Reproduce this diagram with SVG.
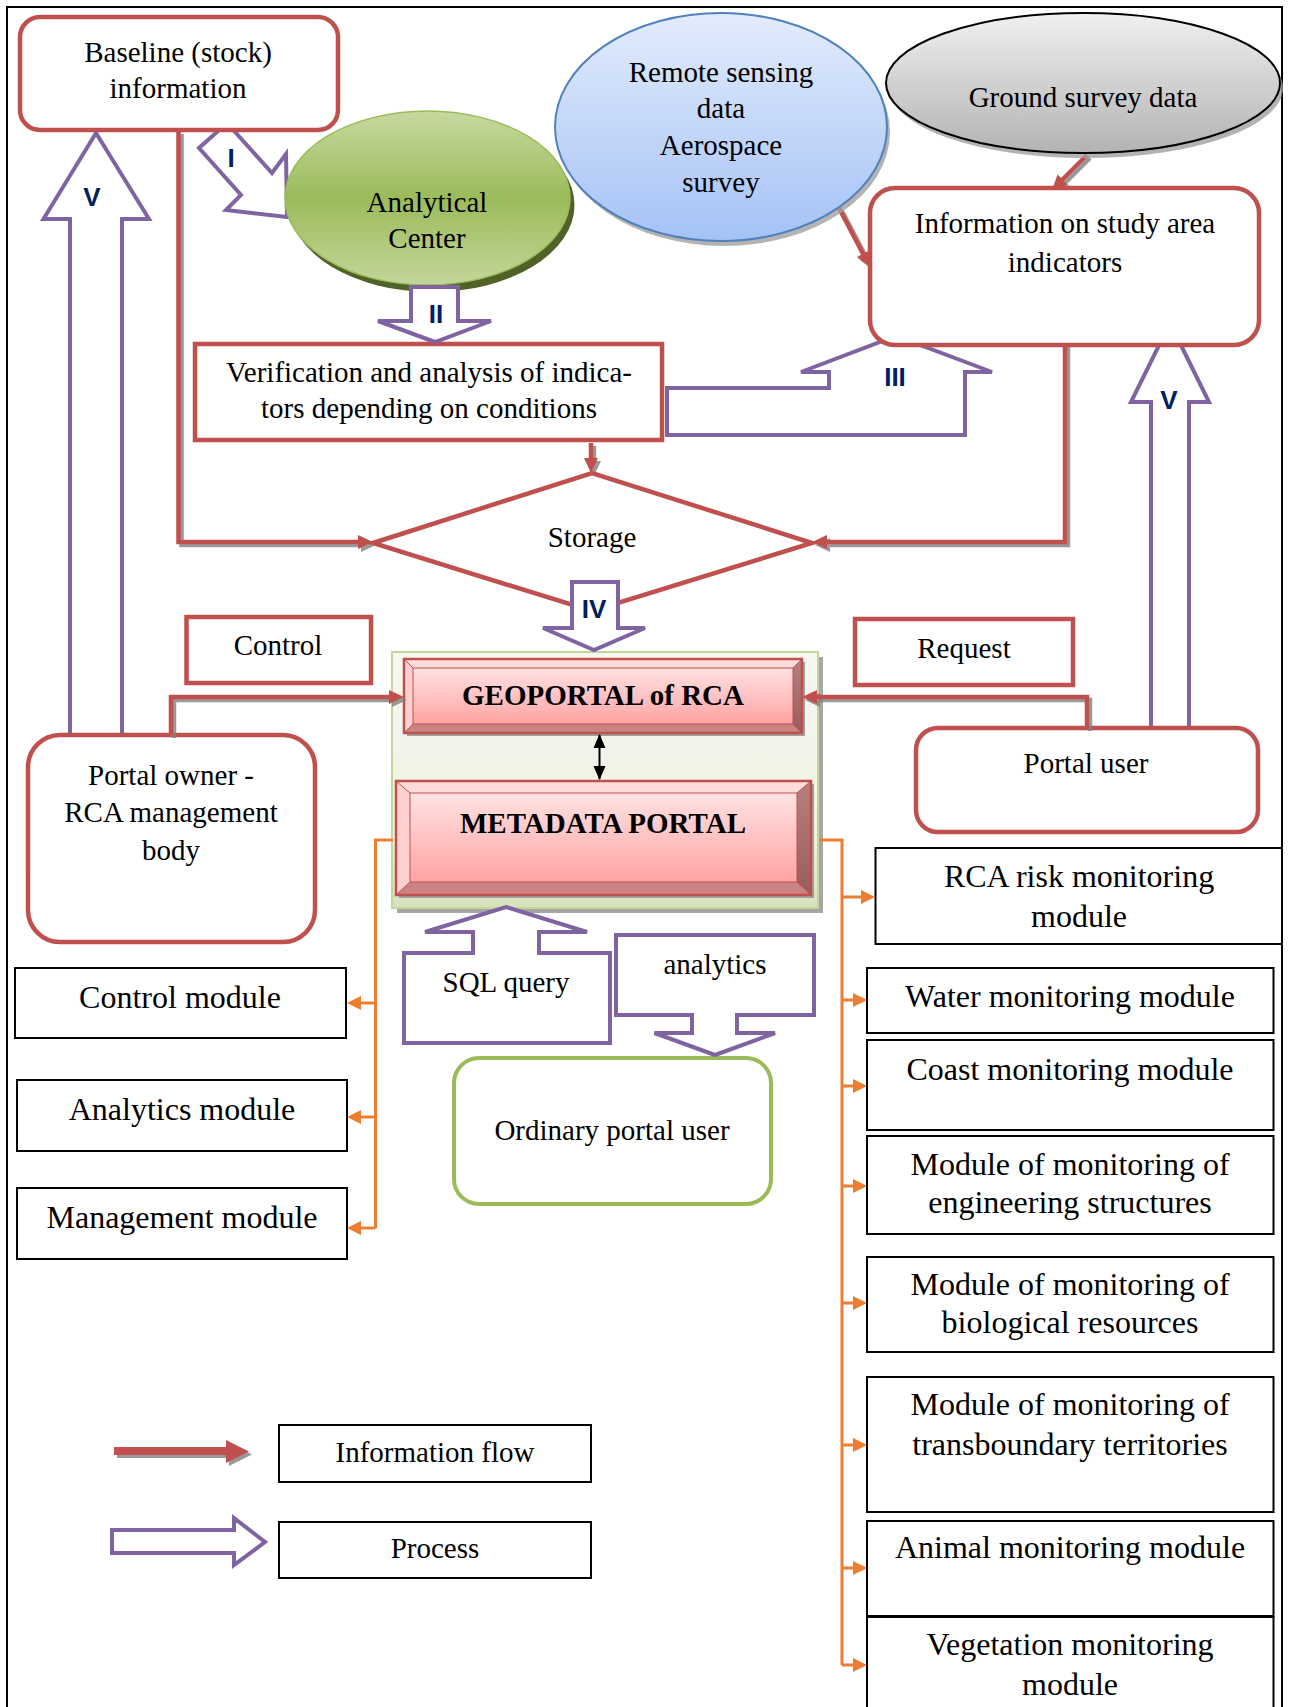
<svg xmlns="http://www.w3.org/2000/svg" width="1290" height="1707" viewBox="0 0 1290 1707">
<defs>
<style>
.t{font-family:"Liberation Serif","Times New Roman",serif;font-size:29px;fill:#000;text-anchor:middle}
.m{font-size:32px}
.b{font-weight:bold}
.num{font-family:"Liberation Sans",Arial,sans-serif;font-size:26px;font-weight:bold;fill:#002060;text-anchor:middle}
.red{fill:#fff;stroke:#C0504D;stroke-width:4.5}
.flow{fill:none;stroke:#C0504D;stroke-width:4.5}
.proc{fill:#fff;stroke:#8064A2;stroke-width:4;stroke-linejoin:miter}
.mod{fill:#fff;stroke:#000;stroke-width:2}
.org{fill:none;stroke:#ED7D31;stroke-width:3}
</style>
<marker id="ar" markerUnits="userSpaceOnUse" markerWidth="16" markerHeight="16" viewBox="0 0 16 16" refX="5" refY="8" orient="auto"><path d="M0,1 L15,8 L0,15 z" fill="#C0504D"/></marker>
<marker id="ao" markerUnits="userSpaceOnUse" markerWidth="16" markerHeight="16" viewBox="0 0 16 16" refX="4" refY="8" orient="auto"><path d="M0,1 L14,8 L0,15 z" fill="#ED7D31"/></marker>
<marker id="ab" markerUnits="userSpaceOnUse" markerWidth="14" markerHeight="14" viewBox="0 0 14 14" refX="13" refY="7" orient="auto-start-reverse"><path d="M0,1 L14,7 L0,13 z" fill="#000"/></marker>
<filter id="sh" filterUnits="userSpaceOnUse" x="0" y="0" width="1290" height="1707"><feDropShadow dx="3" dy="3" stdDeviation="0.7" flood-color="#808080" flood-opacity="0.8"/></filter>
<linearGradient id="gGreen" x1="0" y1="0" x2="0" y2="1"><stop offset="0" stop-color="#C6D9A0"/><stop offset="0.5" stop-color="#9BBB59"/><stop offset="1" stop-color="#C3D69B"/></linearGradient>
<linearGradient id="gBlue" x1="0" y1="0" x2="0" y2="1"><stop offset="0" stop-color="#E3ECFC"/><stop offset="1" stop-color="#A5C2F6"/></linearGradient>
<linearGradient id="gGray" x1="0" y1="0" x2="0" y2="1"><stop offset="0" stop-color="#F0F0F0"/><stop offset="1" stop-color="#B3B3B3"/></linearGradient>
<linearGradient id="gCont" x1="0" y1="0" x2="0" y2="1"><stop offset="0" stop-color="#F6F8F1"/><stop offset="0.7" stop-color="#EDF2E2"/><stop offset="1" stop-color="#D5E2BB"/></linearGradient>
<linearGradient id="gPink" x1="0" y1="0" x2="0" y2="1"><stop offset="0" stop-color="#FFE2E2"/><stop offset="1" stop-color="#FFA3A3"/></linearGradient>
<linearGradient id="gRight" x1="0" y1="0" x2="0" y2="1"><stop offset="0" stop-color="#B88080"/><stop offset="1" stop-color="#9A5C5C"/></linearGradient>
</defs>
<rect width="1290" height="1707" fill="#fff"/>
<rect id="frame" x="7" y="7" width="1275" height="1720" fill="none" stroke="#000" stroke-width="2"/>

<g id="process-arrows-under">
<polygon class="proc" points="96,133 149,219 122,219 122,737 70,737 70,219 43.5,219"/>
<polygon class="proc" points="1170,323 1209,402 1189,402 1189,729 1151,729 1151,402 1131,402"/>
<polygon class="proc" points="227,123 272,173 286,154 287,217 226,210 241,195 199,148"/>
<polygon class="proc" points="667,388 829,388 829,372 801,372 896,336 992,372 965,372 965,435 667,435"/>
</g>

<g id="connectors" filter="url(#sh)">
<path class="flow" d="M178.5,131 V542 H363" marker-end="url(#ar)"/>
<path class="flow" d="M1065,344 V542 H822" marker-end="url(#ar)"/>
<path class="flow" d="M591,443 V463" stroke-width="3.5" marker-end="url(#ar)"/>
<path class="flow" d="M1087,155 L1059,183" marker-end="url(#ar)"/>
<path class="flow" d="M839,208 L865.3,258.1" marker-end="url(#ar)"/>
</g>

<g id="node-baseline">
<rect class="red" x="20" y="17" width="318" height="113" rx="20"/>
<text class="t" x="178" y="62">Baseline (stock)</text>
<text class="t" x="178" y="98">information</text>
</g>

<g id="node-analytical">
<ellipse cx="432" cy="205" rx="142.5" ry="87" fill="#4F6228"/>
<ellipse cx="427.5" cy="198" rx="142.5" ry="87" fill="url(#gGreen)" stroke="#9BBB59" stroke-width="1.5"/>
<text class="t" x="427" y="212">Analytical</text>
<text class="t" x="427" y="248">Center</text>
</g>

<g id="node-remote">
<ellipse cx="724" cy="132" rx="166" ry="114" fill="#A0A0A0" opacity="0.8"/>
<ellipse cx="721" cy="127" rx="166" ry="114" fill="url(#gBlue)" stroke="#4F81BD" stroke-width="2"/>
<text class="t" x="721" y="82">Remote sensing</text>
<text class="t" x="721" y="118">data</text>
<text class="t" x="721" y="155">Aerospace</text>
<text class="t" x="721" y="192">survey</text>
</g>

<g id="node-ground">
<ellipse cx="1086" cy="88" rx="197" ry="70" fill="#A0A0A0" opacity="0.8"/>
<ellipse cx="1083" cy="83" rx="197" ry="70" fill="url(#gGray)" stroke="#000" stroke-width="2"/>
<text class="t" x="1083" y="107">Ground survey data</text>
</g>

<g id="node-info">
<rect class="red" x="870" y="188" width="389" height="157" rx="25"/>
<text class="t" x="1065" y="233">Information on study area</text>
<text class="t" x="1065" y="272">indicators</text>
</g>

<g id="node-verification">
<rect class="red" x="195" y="344" width="467" height="96"/>
<text class="t" x="429" y="382">Verification and analysis of indica-</text>
<text class="t" x="429" y="418">tors depending on conditions</text>
</g>

<g id="node-storage">
<polygon class="red" points="373,543 592,473 812,543 592,611"/>
<text class="t" x="592" y="547">Storage</text>
</g>

<g id="node-control">
<rect class="red" x="186.5" y="617" width="184.5" height="66"/>
<text class="t" x="278" y="655">Control</text>
</g>

<g id="node-request">
<rect class="red" x="855" y="619" width="218" height="66"/>
<text class="t" x="964" y="658">Request</text>
</g>

<g id="node-portal-container">
<rect x="397" y="657" width="426" height="256" fill="#A6A6A6"/>
<rect x="392" y="652" width="426" height="256" fill="url(#gCont)" stroke="#C3D69B" stroke-width="2"/>
</g>

<g id="node-geoportal">
<rect x="407" y="662" width="398" height="74" fill="#A0A0A0"/>
<polygon points="404,659 802,659 793,668 413,668" fill="#FFDCDC"/>
<polygon points="404,659 413,668 413,724 404,733" fill="#FFD0D0"/>
<polygon points="802,659 802,733 793,724 793,668" fill="url(#gRight)"/>
<polygon points="404,733 802,733 793,724 413,724" fill="#CB8282"/>
<rect x="413" y="668" width="380" height="56" fill="url(#gPink)"/>
<path d="M404,659 L413,668 M802,659 L793,668 M404,733 L413,724 M802,733 L793,724" stroke="#C0504D" stroke-width="1" fill="none"/>
<rect x="413" y="668" width="380" height="56" fill="none" stroke="#C0504D" stroke-width="1"/>
<rect x="404" y="659" width="398" height="74" fill="none" stroke="#C0504D" stroke-width="2.5"/>
<text class="t b" x="603" y="705">GEOPORTAL of RCA</text>
</g>

<g id="node-metadata">
<rect x="399" y="784" width="415" height="114" fill="#A0A0A0"/>
<polygon points="396,781 811,781 797,793 410,793" fill="#FFDCDC"/>
<polygon points="396,781 410,793 410,882 396,895" fill="#FFD0D0"/>
<polygon points="811,781 811,895 797,882 797,793" fill="url(#gRight)"/>
<polygon points="396,895 811,895 797,882 410,882" fill="#CB8282"/>
<rect x="410" y="793" width="387" height="89" fill="url(#gPink)"/>
<path d="M396,781 L410,793 M811,781 L797,793 M396,895 L410,882 M811,895 L797,882" stroke="#C0504D" stroke-width="1" fill="none"/>
<rect x="410" y="793" width="387" height="89" fill="none" stroke="#C0504D" stroke-width="1"/>
<rect x="396" y="781" width="415" height="114" fill="none" stroke="#C0504D" stroke-width="2.5"/>
<text class="t b" x="603" y="833">METADATA PORTAL</text>
</g>

<g id="node-portal-owner">
<rect class="red" x="28" y="735" width="287" height="207" rx="32"/>
<text class="t" x="171" y="785">Portal owner -</text>
<text class="t" x="171" y="822">RCA management</text>
<text class="t" x="171" y="860">body</text>
</g>

<g id="node-portal-user">
<rect class="red" x="916" y="728" width="342" height="104" rx="22"/>
<text class="t" x="1086" y="773">Portal user</text>
</g>

<g id="connectors-portal" filter="url(#sh)">
<path class="flow" d="M171,735 V697 H394" marker-end="url(#ar)"/>
<path class="flow" d="M1087,728 V697 H812" marker-end="url(#ar)"/>
</g>

<g id="node-ordinary-user">
<rect x="454" y="1058" width="317" height="146" rx="25" fill="#fff" stroke="#9BBB59" stroke-width="4"/>
<text class="t" x="612" y="1140">Ordinary portal user</text>
</g>

<g id="node-control-module"><rect class="mod" x="15" y="968" width="331" height="70"/><text class="t m" x="180" y="1008">Control module</text></g>
<g id="node-analytics-module"><rect class="mod" x="17" y="1080" width="330" height="71"/><text class="t m" x="182" y="1120">Analytics module</text></g>
<g id="node-management-module"><rect class="mod" x="17" y="1188" width="330" height="71"/><text class="t m" x="182" y="1228">Management module</text></g>

<g id="node-rca-risk"><rect class="mod" x="875.5" y="848" width="406.5" height="96"/><text class="t m" x="1079" y="887">RCA risk monitoring</text><text class="t m" x="1079" y="927">module</text></g>
<g id="node-water"><rect class="mod" x="867" y="968" width="406.5" height="65"/><text class="t m" x="1070" y="1007">Water monitoring module</text></g>
<g id="node-coast"><rect class="mod" x="867" y="1040" width="406.5" height="90"/><text class="t m" x="1070" y="1080">Coast monitoring module</text></g>
<g id="node-engineering"><rect class="mod" x="867" y="1136" width="406.5" height="98"/><text class="t m" x="1070" y="1175">Module of monitoring of</text><text class="t m" x="1070" y="1213">engineering structures</text></g>
<g id="node-biological"><rect class="mod" x="867" y="1257" width="406.5" height="95"/><text class="t m" x="1070" y="1295">Module of monitoring of</text><text class="t m" x="1070" y="1333">biological resources</text></g>
<g id="node-transboundary"><rect class="mod" x="867" y="1377" width="406.5" height="135"/><text class="t m" x="1070" y="1415">Module of monitoring of</text><text class="t m" x="1070" y="1455">transboundary territories</text></g>
<g id="node-animal"><rect class="mod" x="867" y="1521" width="406.5" height="95"/><text class="t m" x="1070" y="1558">Animal monitoring module</text></g>
<g id="node-vegetation"><rect class="mod" x="867" y="1617" width="406.5" height="110"/><text class="t m" x="1070" y="1655">Vegetation monitoring</text><text class="t m" x="1070" y="1695">module</text></g>

<g id="process-arrows-over">
<polygon class="proc" points="411,287 458,287 458,321 491,321 435,342 378,321 411,321"/>
<polygon class="proc" points="572,582 618,582 618,628 645,628 594,650 543,628 572,628"/>
<polygon class="proc" points="506,907 587,932 539,932 539,953 610,953 610,1043 404,1043 404,953 473,953 473,932 425,932"/>
<polygon class="proc" points="616,935 814,935 814,1015 737,1015 737,1033 775,1033 715,1055 654.5,1033 692,1033 692,1015 616,1015"/>
<text class="num" x="92" y="206">V</text>
<text class="num" x="1169" y="409">V</text>
<text class="num" x="231" y="167">I</text>
<text class="num" x="436" y="323">II</text>
<text class="num" x="895" y="386">III</text>
<text class="num" x="594" y="618">IV</text>
<text class="t" x="506" y="992">SQL query</text>
<text class="t" x="715" y="974">analytics</text>
</g>

<g id="orange-connectors">
<path class="org" d="M393,840 H375.5 V1228"/>
<path class="org" d="M375.5,1003 H357" marker-end="url(#ao)"/>
<path class="org" d="M375.5,1117 H357" marker-end="url(#ao)"/>
<path class="org" d="M375.5,1228 H357" marker-end="url(#ao)"/>
<path class="org" d="M819,840 H842 V1665"/>
<path class="org" d="M842,897 H865" marker-end="url(#ao)"/>
<path class="org" d="M842,1000 H857" marker-end="url(#ao)"/>
<path class="org" d="M842,1086 H857" marker-end="url(#ao)"/>
<path class="org" d="M842,1186 H857" marker-end="url(#ao)"/>
<path class="org" d="M842,1303 H857" marker-end="url(#ao)"/>
<path class="org" d="M842,1445 H857" marker-end="url(#ao)"/>
<path class="org" d="M842,1568 H857" marker-end="url(#ao)"/>
<path class="org" d="M842,1665 H857" marker-end="url(#ao)"/>
</g>

<g id="link-geoportal-metadata">
<line x1="599.5" y1="735" x2="599.5" y2="779" stroke="#000" stroke-width="2" marker-start="url(#ab)" marker-end="url(#ab)"/>
</g>

<g id="legend">
<polygon points="114,1447 226,1447 226,1440 249,1451.5 226,1463 226,1455 114,1455" fill="#C0504D" filter="url(#sh)"/>
<polygon class="proc" points="112,1530 234,1530 234,1518 265,1542 234,1565 234,1553 112,1553"/>
<rect class="mod" x="279" y="1425" width="312" height="57"/>
<text class="t" x="435" y="1462">Information flow</text>
<rect class="mod" x="279" y="1522" width="312" height="56"/>
<text class="t" x="435" y="1558">Process</text>
</g>
</svg>
